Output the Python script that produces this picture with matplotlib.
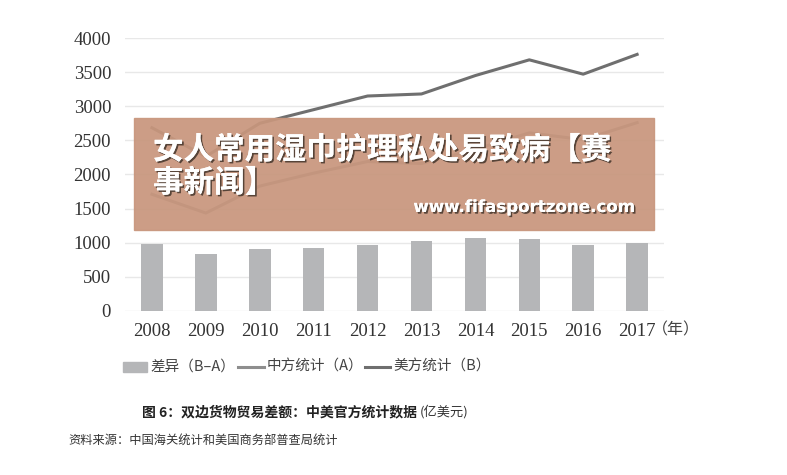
import numpy as np
import matplotlib.pyplot as plt
import matplotlib.patheffects as pe
from matplotlib.patches import Rectangle
from matplotlib.lines import Line2D

plt.rcParams['font.family'] = ['Liberation Serif', 'Noto Sans CJK SC', 'DejaVu Sans']

years = ['2008', '2009', '2010', '2011', '2012', '2013', '2014', '2015', '2016', '2017']
china_a = [1710, 1435, 1830, 2020, 2190, 2160, 2370, 2610, 2510, 2760]
us_b = [2685, 2265, 2750, 2950, 3150, 3180, 3450, 3680, 3470, 3760]
diff = [975, 830, 915, 930, 960, 1020, 1075, 1060, 965, 995]
yticks = [0, 500, 1000, 1500, 2000, 2500, 3000, 3500, 4000]

fig = plt.figure(figsize=(7.87, 4.75), dpi=100)
ax = fig.add_axes([0.1588, 0.3453, 0.685, 0.5747])

x = np.arange(len(years))
ax.bar(x, diff, width=0.4, color='#b5b6b8', zorder=2)
ax.plot(x, china_a, color='#8e8e8e', lw=2.2, zorder=3)
ax.plot(x, us_b, color='#6f6f6f', lw=2.2, zorder=3)

ax.set_xlim(-0.5, 9.5)
ax.set_ylim(0, 4000)
ax.set_yticks(yticks)
ax.set_xticks(x)
ax.set_xticklabels(years)
ax.grid(axis='y', color='#e8e8e8', lw=1, zorder=0)
for s in ax.spines.values():
    s.set_visible(False)
ax.tick_params(length=0, labelsize=13.5, colors='#333333')
ax.tick_params(axis='x', pad=9)
ax.tick_params(axis='y', pad=10)

cjk = ['Noto Sans CJK SC']
fig.text(652 / 787, 1 - 330 / 475, '（年）', fontsize=11.5, color='#444444',
         family=cjk, ha='left', va='center')

# legend
ly = 1 - 367 / 475
fig.patches.append(Rectangle((123 / 787, ly - 0.011), 24 / 787, 0.022,
                             transform=fig.transFigure, color='#b5b6b8'))
fig.text(150 / 787, ly, '差异（B–A）', fontsize=10.5, color='#444444', family=cjk, va='center')
fig.lines.append(Line2D([238 / 787, 264 / 787], [ly, ly], transform=fig.transFigure,
                        color='#8e8e8e', lw=2.2))
fig.text(267 / 787, ly, '中方统计（A）', fontsize=10.5, color='#444444', family=cjk, va='center')
fig.lines.append(Line2D([365 / 787, 390 / 787], [ly, ly], transform=fig.transFigure,
                        color='#6f6f6f', lw=2.2))
fig.text(393 / 787, ly, '美方统计（B）', fontsize=10.5, color='#444444', family=cjk, va='center')

fig.text(142 / 787, 1 - 412 / 475, '图 6：双边货物贸易差额：中美官方统计数据', fontsize=10,
         color='#222222', family=cjk, weight='bold', ha='left', va='center')
fig.text(420 / 787, 1 - 412 / 475, '(亿美元)', fontsize=9.5,
         color='#333333', family=cjk, ha='left', va='center')
fig.text(68 / 787, 1 - 440 / 475, '资料来源：中国海关统计和美国商务部普查局统计', fontsize=8.8,
         color='#333333', family=cjk, ha='left', va='center')

# overlay banner
fig.patches.append(Rectangle((134 / 787, 1 - 230 / 475), 520 / 787, 112 / 475,
                             transform=fig.transFigure, color='#c8967d', alpha=0.93, zorder=10))
shadow = [pe.withSimplePatchShadow(offset=(1.2, -1.2), shadow_rgbFace='#4a3a30', alpha=0.9),
          pe.Normal()]
fig.text(153 / 787, 1 - 150 / 475, '女人常用湿巾护理私处易致病【赛', fontsize=22, color='white',
         family=cjk, weight='heavy', va='center', zorder=11, path_effects=shadow)
fig.text(153 / 787, 1 - 183 / 475, '事新闻】', fontsize=22, color='white',
         family=cjk, weight='heavy', va='center', zorder=11, path_effects=shadow)
fig.text(635 / 787, 1 - 207 / 475, 'www.fifasportzone.com', fontsize=12, color='white',
         family=['DejaVu Sans'], weight='bold', ha='right', va='center', zorder=11,
         path_effects=shadow)

fig.savefig('out.png', dpi=100)
